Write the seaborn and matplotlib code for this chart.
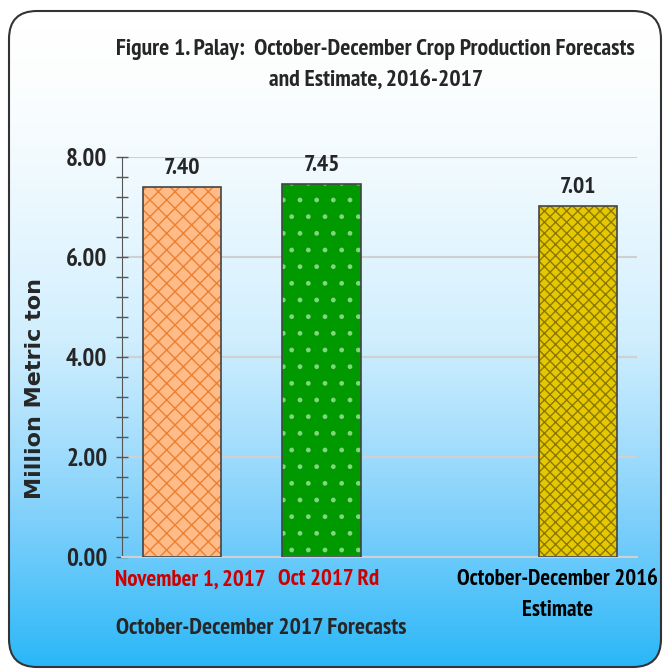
import numpy as np
import pandas as pd
import matplotlib
matplotlib.use("Agg")
import matplotlib.pyplot as plt
from matplotlib.patches import FancyBboxPatch
from matplotlib.ticker import MultipleLocator, FormatStrFormatter
import seaborn as sns

# data
labels = ["November 1, 2017", "Oct 2017 Rd", "October-December 2016\nEstimate"]
values = [7.40, 7.45, 7.01]
xpos = [0.0, 1.0, 2.84]
face_colors = ["#ffbb88", "#009a00", "#e6c800"]
hatch_colors = ["#ec8030", "#7fd67f", "#8a7800"]
hatches = ["xx", ".", "xxx"]
label_colors = ["#cc0000", "#cc0000", "black"]

narrow = ["PT Sans Narrow", "Roboto Condensed", "DejaVu Sans"]

sns.set_style("white")
plt.rcParams["font.family"] = narrow
plt.rcParams["hatch.linewidth"] = 1.0

fig = plt.figure(figsize=(6.64, 6.70), dpi=100)

# gradient background in a rounded frame
bg = fig.add_axes([0, 0, 1, 1])
bg.set_xlim(0, 664)
bg.set_ylim(670, 0)
bg.axis("off")
frame = FancyBboxPatch((9, 11), 652, 656, boxstyle="round,pad=0,rounding_size=28",
                       facecolor="none", edgecolor="#333333", linewidth=1.5, zorder=3)
bg.add_patch(frame)
grad = np.linspace(0, 1, 256).reshape(-1, 1) ** 1.6
cmap = matplotlib.colors.LinearSegmentedColormap.from_list(
    "bgc", ["#ffffff", "#cfeefe", "#7fd0fb", "#2ab7f8"])
img = bg.imshow(grad, cmap=cmap, extent=[9, 661, 667, 11], aspect="auto", zorder=1)
img.set_clip_path(frame)

ax = fig.add_axes([0.1837, 0.1687, 0.7756, 0.597])
ax.set_facecolor("none")

df = pd.DataFrame({"x": xpos, "value": values, "label": labels})
sns.barplot(data=df, x="x", y="value", native_scale=True, width=0.56,
            ax=ax, zorder=2)
for p, fc, hc, h in zip(ax.patches, face_colors, hatch_colors, hatches):
    p.set_facecolor(fc)
    p.set_edgecolor(hc)
    p.set_hatch(h)
    p.set_linewidth(0)
sns.barplot(data=df, x="x", y="value", native_scale=True, width=0.56,
            ax=ax, fill=False, edgecolor="#444444", linewidth=1.2, zorder=3)

for x, v in zip(xpos, values):
    ax.text(x, v + 0.16, f"{v:.2f}", ha="center", va="bottom",
            fontsize=17, fontweight="bold")

ax.set_xlim(-0.43, 3.26)
ax.set_ylim(0, 8)
ax.yaxis.set_major_locator(MultipleLocator(2))
ax.yaxis.set_minor_locator(MultipleLocator(0.4))
ax.yaxis.set_major_formatter(FormatStrFormatter("%.2f"))
ax.grid(axis="y", color="#d0d0d0", linewidth=1.5)
ax.set_axisbelow(True)
ax.tick_params(axis="y", which="both", left=True, direction="inout",
               length=9, width=1, color="#555555", labelsize=18, pad=6)
for t in ax.get_yticklabels():
    t.set_fontweight("bold")
ax.set_xticks([])
ax.set_xlabel("")
ax.set_ylabel("Million Metric ton", fontsize=16, fontweight="bold",
              family=["DejaVu Sans"])
ax.yaxis.set_label_coords(-0.15, 0.42)
for s in ["top", "right"]:
    ax.spines[s].set_visible(False)
ax.spines["left"].set_color("#555555")
ax.spines["bottom"].set_color("#d0d0d0")
ax.spines["bottom"].set_linewidth(1.5)

# category labels
ax.text(xpos[0] + 0.06, -0.25, labels[0], color=label_colors[0], ha="center",
        va="top", fontsize=16.5, fontweight="bold")
ax.text(xpos[1] + 0.05, -0.25, labels[1], color=label_colors[1], ha="center",
        va="top", fontsize=16.5, fontweight="bold")
ax.text(xpos[2] - 0.15, -0.25, labels[2], color=label_colors[2], ha="center",
        va="top", fontsize=16.5, fontweight="bold", linespacing=1.6)
fig.text(0.393, 0.062, "October-December 2017 Forecasts", ha="center",
         va="center", fontsize=17, fontweight="bold")

fig.text(0.566, 0.903, "Figure 1. Palay:  October-December Crop Production Forecasts\nand Estimate, 2016-2017",
         ha="center", va="center", fontsize=17, fontweight="bold", linespacing=1.6)

fig.savefig("out.png", dpi=100)
